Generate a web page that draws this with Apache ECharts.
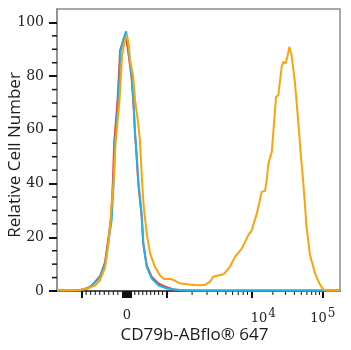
<!DOCTYPE html>
<html>
<head>
<meta charset="utf-8">
<script src="https://cdn.jsdelivr.net/npm/echarts@6/dist/echarts.min.js"></script>
<style>
  html, body { margin: 0; padding: 0; background: #fff; }
  #chart { width: 351px; height: 350px; }
</style>
</head>
<body>
<div id="chart"></div>
<script>
// Histogram bins on the display scale (0–1000 channel units), counts as % of max
const orangeX = [0, 46, 81, 110, 134, 152, 170, 180, 187, 194, 201, 207, 221, 230, 239, 247, 253, 258, 264, 269, 276, 287, 293, 300, 306, 317, 329, 346, 364, 376, 389, 399, 417, 435, 458, 488, 505, 523, 541, 552, 569, 588, 611, 629, 653, 676, 688, 706, 717, 723, 735, 741, 747, 759, 774, 782, 794, 800, 808, 814, 821, 829, 841, 853, 861, 869, 882, 894, 912, 927, 941, 958, 1000];
const orangeY = [0.3, 0.3, 0.4, 1.0, 2.0, 4.0, 8.8, 16.4, 23.8, 33, 42, 55, 71, 88, 93, 95.3, 92, 86, 86, 80, 71, 62.4, 56, 42, 32, 21.4, 13.9, 9, 5.8, 4.6, 4.4, 4.6, 3.8, 2.8, 2.5, 2.2, 2.1, 2.3, 3.5, 5.3, 5.8, 6.2, 9, 12.7, 15.8, 20.8, 22.6, 28.8, 33.8, 36.9, 37.3, 41.2, 47.5, 51.8, 72.3, 72.9, 83.5, 85.3, 84.7, 87.2, 90.9, 87.8, 77.3, 62.4, 51.2, 42, 23.8, 13.3, 6.5, 2.8, 0.5, 0.2, 0.2];

const blueX = [0, 81, 110, 124, 152, 170, 181, 193, 200, 205, 217, 225, 235, 244, 251, 258, 264, 270, 276, 282, 287, 293, 299, 305, 317, 335, 358, 388, 435, 470, 1000];
const blueY = [0.2, 0.3, 1.0, 2.0, 5.2, 10.2, 17.7, 26.3, 40, 55, 71, 89.6, 94, 96.7, 92, 85, 79.7, 71, 58.6, 50, 41.2, 35, 28.8, 17.7, 9, 4.6, 2.1, 0.9, 0.4, 0.2, 0.2];

const redX = [0, 81, 110, 124, 152, 170, 180, 191, 198, 202, 214, 223, 233, 242, 249, 258, 264, 270, 276, 282, 287, 293, 299, 305, 317, 335, 358, 382, 399, 417, 470, 1000];
const redY = [0.2, 0.3, 1.2, 2.2, 5.5, 10.8, 18.5, 27, 42, 55, 71, 89.6, 93, 95, 91, 84, 79, 70, 58, 49, 40.5, 34, 28, 17.5, 9.5, 5.2, 2.8, 1.6, 1.0, 0.4, 0.2, 0.2];

// Fluorescence values for axis ticks and labels
const majorTickValues = [-1000, -100, -50, 0, 50, 100, 1000, 10000, 100000];
const labelValues = [0, 10000, 100000];
const yLabelValues = [0, 20, 40, 60, 80, 100];

// Linear near zero, logarithmic per decade above 10^3
const ZERO = 247, NEG = 160, POS = 140, DECADE = [300, 252];
function toChannel(v) {
  if (v < 0) return ZERO + v / 1000 * NEG;
  if (v <= 1000) return ZERO + v / 1000 * POS;
  if (v <= 1e4) return ZERO + POS + DECADE[0] * Math.log10(v / 1e3);
  return ZERO + POS + DECADE[0] + DECADE[1] * Math.log10(v / 1e4);
}

const minorTickValues = [];
for (let k = 2; k <= 9; k++) {
  minorTickValues.push(-k * 100, k * 100, k * 1000, k * 10000);
}
const yMinorValues = [];
for (let v = 5; v < 100; v += 5) if (v % 20) yMinorValues.push(v);

const pair = (xs, ys) => xs.map((x, i) => [x, ys[i]]);

const serif = 'DejaVu Serif';
const labelChannels = labelValues.map(toChannel);

function xLabel(val) {
  let best = 0;
  labelChannels.forEach((c, i) => { if (Math.abs(c - val) < Math.abs(labelChannels[best] - val)) best = i; });
  const v = labelValues[best];
  if (v === 0) return '{n|0}';
  const exp = Math.round(Math.log10(v));
  return (exp === 4 ? '{p|10}' : '{n|10}') + '{s|' + exp + '}';
}

// Short minor tick marks, placed through the axis scales
function minorTick(horizontal, len) {
  return function (params, api) {
    const p = api.coord([api.value(0), api.value(1)]);
    const shape = horizontal
      ? { x1: p[0], y1: p[1], x2: p[0], y2: p[1] + len }
      : { x1: p[0] - len, y1: p[1], x2: p[0], y2: p[1] };
    return { type: 'line', shape: shape, style: { stroke: '#111', lineWidth: horizontal ? 1 : 1.5 } };
  };
}

const chart = echarts.init(document.getElementById('chart'), null, { renderer: 'canvas' });
chart.setOption({
  animation: false,
  backgroundColor: '#fff',
  grid: { left: 57, right: 11, top: 9, bottom: 59, outerBoundsMode: 'none', containLabel: false, show: true, borderColor: '#8c8c8c', borderWidth: 1.5, backgroundColor: 'transparent' },
  xAxis: {
    type: 'value', min: 0, max: 1000,
    name: 'CD79b-ABflo® 647', nameLocation: 'middle', nameGap: 36, nameMoveOverlap: false,
    nameTextStyle: { fontFamily: 'Open Sans', fontSize: 17, color: '#1a1a1a', padding: [0, 8, 0, 0] },
    axisLine: { show: true, lineStyle: { color: '#3a3a3a', width: 1.5 } },
    axisTick: { show: true, length: 7, customValues: majorTickValues.map(toChannel), lineStyle: { color: '#111', width: 2 } },
    axisLabel: {
      show: true, margin: 17, customValues: labelChannels, formatter: xLabel,
      rich: {
        n: { fontFamily: serif, fontSize: 13, color: '#222', lineHeight: 16 },
        p: { fontFamily: serif, fontSize: 13, color: '#222', lineHeight: 16, padding: [0, 0, 0, 24] },
        s: { fontFamily: serif, fontSize: 12, color: '#222', padding: [0, 0, 10, 1] }
      }
    },
    splitLine: { show: false }
  },
  yAxis: {
    type: 'value', min: 0, max: 105,
    name: 'Relative Cell Number', nameLocation: 'middle', nameGap: 33, nameRotate: 90, nameMoveOverlap: false,
    nameTextStyle: { fontFamily: 'Open Sans', fontSize: 17, color: '#1a1a1a', padding: [0, 10, 0, 0] },
    axisLine: { show: true, lineStyle: { color: '#8c8c8c', width: 1.5 } },
    axisTick: { show: true, length: 8, customValues: yLabelValues, lineStyle: { color: '#111', width: 2 } },
    axisLabel: { show: true, margin: 13, customValues: yLabelValues, fontFamily: serif, fontSize: 14, color: '#222' },
    splitLine: { show: false }
  },
  series: [
    { type: 'custom', clip: false, silent: true, z: 1, renderItem: minorTick(true, 4),
      data: minorTickValues.map(v => [toChannel(v), 0]) },
    { type: 'custom', clip: false, silent: true, z: 1, renderItem: minorTick(false, 5),
      data: yMinorValues.map(v => [0, v]) },
    { type: 'line', data: pair(redX, redY), showSymbol: false, lineStyle: { color: '#e5453a', width: 2 }, z: 2 },
    { type: 'line', data: pair(blueX, blueY), showSymbol: false, lineStyle: { color: '#1fb3e6', width: 2 }, z: 3 },
    { type: 'line', data: pair(orangeX, orangeY), showSymbol: false, lineStyle: { color: '#f9a40e', width: 2 }, z: 4 }
  ]
});
</script>
</body>
</html>
